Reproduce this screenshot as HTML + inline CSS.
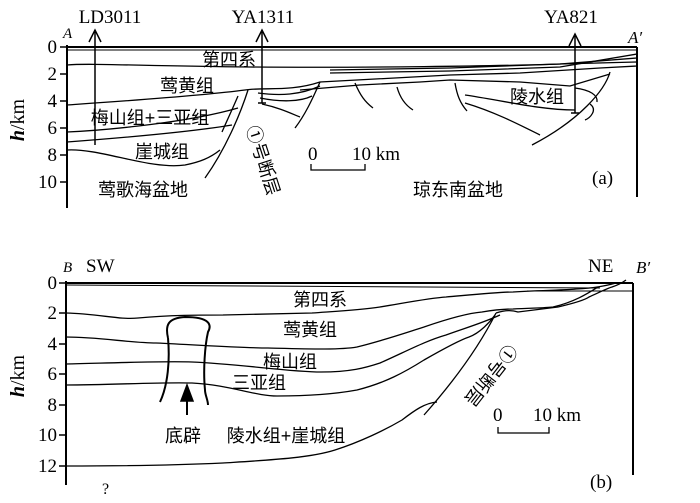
<!DOCTYPE html>
<html><head><meta charset="utf-8"><style>
html,body{margin:0;padding:0;background:#fff}
svg{display:block}
text{font-family:"Liberation Serif","Noto Serif CJK SC",serif;fill:#000}
.c{font-family:"Liberation Sans","Noto Sans CJK SC",sans-serif;font-size:18px}
.n{font-size:19px}
</style></head><body>
<svg width="700" height="503" viewBox="0 0 700 503" xmlns="http://www.w3.org/2000/svg" fill="none" stroke="#000" stroke-width="1.5">
<!-- Panel A -->
<line x1="67" y1="47" x2="637" y2="47" stroke-width="2"/>
<line x1="67" y1="50" x2="637" y2="50" stroke-width="1"/>
<line x1="67" y1="45" x2="67" y2="208" stroke-width="2"/>
<line x1="637" y1="47" x2="637" y2="197" stroke-width="2"/>
<g stroke-width="1.3">
<path d="M67,65 C90,63 140,66 250,67 S500,66 560,64 L637,62"/>
<path d="M330,70 L450,68 L560,64 L637,58"/>
<path d="M330,73 L450,71 L560,67 L637,54"/>
<path d="M67,105 C110,102 200,96 245,90 C265,87 290,92 320,82 L450,75 L520,73 L600,68 L637,66"/>
<path d="M67,132 C110,130 190,122 238,108"/>
<path d="M67,142 C120,138 190,132 232,125"/>
<path d="M67,150 C100,148 150,170 185,165 C200,162 210,158 220,150"/>
<path d="M248,90 C240,115 225,150 205,178"/>
<path d="M238,96 C232,110 225,125 222,132"/>
<path d="M258,93 C280,96 300,95 320,86"/>
<path d="M260,98 C280,102 300,102 312,96"/>
<path d="M262,104 C280,108 290,113 300,117"/>
<path d="M320,82 C312,100 305,115 295,128"/>
<path d="M300,90 L360,85 L420,82 L450,80 L520,82 L570,86 L610,74"/>
<path d="M355,83 C360,95 365,102 373,108"/>
<path d="M397,87 C400,98 405,105 413,110"/>
<path d="M455,83 C457,95 460,103 467,111"/>
<path d="M465,95 C500,100 540,110 575,110"/>
<path d="M465,103 C495,112 520,125 540,135"/>
<path d="M610,72 C605,90 580,120 532,145"/>
<path d="M575,88 C590,90 598,95 597,102"/>
<path d="M590,104 C598,110 590,118 585,120"/>
</g>
<!-- wells -->
<line x1="95" y1="32" x2="95" y2="145"/><path d="M89,42 L95,30 L101,42" />
<line x1="262" y1="32" x2="262" y2="103"/><path d="M256,42 L262,30 L268,42"/><line x1="258" y1="103" x2="266" y2="103"/>
<line x1="575" y1="36" x2="575" y2="113"/><path d="M569,46 L575,34 L581,46"/><line x1="571" y1="113" x2="579" y2="113"/>
<g stroke="none">
<text x="110" y="23" text-anchor="middle" class="n">LD3011</text>
<text x="263" y="23" text-anchor="middle" class="n">YA1311</text>
<text x="571" y="23" text-anchor="middle" class="n">YA821</text>
<text x="63" y="38" font-style="italic" font-size="15">A</text>
<text x="628" y="43" font-style="italic" font-size="17">A′</text>
<g class="n" text-anchor="end">
<text x="57" y="53">0</text><text x="57" y="80">2</text><text x="57" y="107">4</text><text x="57" y="134">6</text><text x="57" y="161">8</text><text x="57" y="188">10</text>
</g>
<text x="229" y="66" class="c" text-anchor="middle">第四系</text>
<text x="187" y="92" class="c" text-anchor="middle">莺黄组</text>
<text x="150" y="124" class="c" text-anchor="middle">梅山组+三亚组</text>
<text x="162" y="158" class="c" text-anchor="middle">崖城组</text>
<text x="143" y="196" class="c" text-anchor="middle">莺歌海盆地</text>
<text x="537" y="103" class="c" text-anchor="middle">陵水组</text>
<text x="458" y="196" class="c" text-anchor="middle">琼东南盆地</text>
<text transform="translate(246,128) rotate(72)" class="c" font-size="16">①号断层</text>
<text x="308" y="160" class="n">0</text><text x="352" y="160" class="n">10 km</text>
<text x="592" y="184" class="n">(a)</text>
</g>
<path d="M311,164 L311,170 L365,170 L365,164" stroke-width="1.3"/>
<g stroke="#000" stroke-width="1.5">
<line x1="60" y1="47" x2="67" y2="47"/><line x1="60" y1="74" x2="67" y2="74"/><line x1="60" y1="101" x2="67" y2="101"/><line x1="60" y1="128" x2="67" y2="128"/><line x1="60" y1="155" x2="67" y2="155"/><line x1="60" y1="182" x2="67" y2="182"/>
</g>
<text transform="translate(24,120) rotate(-90)" stroke="none" font-size="20" text-anchor="middle"><tspan font-style="italic" font-weight="bold">h</tspan>/km</text>

<!-- Panel B -->
<line x1="66" y1="283" x2="633" y2="283" stroke-width="2"/>
<line x1="66" y1="285" x2="600" y2="288" stroke-width="1"/>
<line x1="527" y1="291" x2="633" y2="291" stroke-width="1"/>
<line x1="66" y1="281" x2="66" y2="485" stroke-width="2"/>
<line x1="633" y1="283" x2="633" y2="475" stroke-width="2"/>
<g stroke-width="1.3">
<path d="M66,313 C100,314 120,320 138,318 C170,315 200,315 223,315 L312,313 C340,311 360,310 380,307 C410,302 430,298 446,297 C480,294 500,292 513,292 C545,290 570,290 576,289 C595,288 605,286 616,283"/>
<path d="M66,337 C100,337 130,343 156,343 C200,345 240,348 268,348 C310,349 340,350 357,347 C385,340 405,333 424,327 C450,318 470,313 482,312 C500,309 513,309 513,309 C530,308 545,308 553,307 C575,302 590,292 598,287"/>
<path d="M66,364 C110,363 160,361 192,362 C240,364 290,372 321,372 C350,372 365,368 380,363 C405,352 425,341 446,335 C465,328 480,324 500,315"/>
<path d="M66,385 C110,385 160,382 192,383 C230,385 255,396 277,396 C310,396 335,394 357,390 C385,383 405,372 424,360 C445,348 460,340 469,337 C480,333 490,322 495,315"/>
<path d="M496,313 C480,345 455,380 424,415"/>
<path d="M66,466 C120,466 180,465 223,463 C270,460 310,458 335,450 C360,442 385,430 402,420 C415,410 425,403 437,402"/>
<path d="M496,313 C505,310 512,310 518,312 C535,310 550,308 558,307 C575,303 585,300 589,297 C600,292 608,288 612,287 C618,285 622,283 626,280"/>
<path d="M168,338 C165,325 168,318 185,317 C210,317 212,325 208,332 C205,345 203,370 205,390 C205,395 208,400 208,405" stroke-width="2"/>
<path d="M168,338 C170,360 168,385 160,402" stroke-width="2"/>
</g>
<line x1="187" y1="400" x2="187" y2="415" stroke-width="2"/>
<path d="M181,401 L187,385 L193,401 Z" fill="#000"/>
<g stroke="#000" stroke-width="1.5">
<line x1="59" y1="283" x2="66" y2="283"/><line x1="59" y1="313" x2="66" y2="313"/><line x1="59" y1="344" x2="66" y2="344"/><line x1="59" y1="374" x2="66" y2="374"/><line x1="59" y1="405" x2="66" y2="405"/><line x1="59" y1="435" x2="66" y2="435"/><line x1="59" y1="466" x2="66" y2="466"/>
</g>
<path d="M498,427 L498,433 L549,433 L549,427" stroke-width="1.3"/>
<g stroke="none">
<g class="n" text-anchor="end">
<text x="57" y="289">0</text><text x="57" y="319">2</text><text x="57" y="350">4</text><text x="57" y="380">6</text><text x="57" y="411">8</text><text x="57" y="441">10</text><text x="57" y="472">12</text>
</g>
<text x="63" y="272" font-style="italic" font-size="15">B</text>
<text x="86" y="272" class="n">SW</text>
<text x="588" y="272" class="n">NE</text>
<text x="636" y="273" font-style="italic" font-size="17">B′</text>
<text x="320" y="306" class="c" text-anchor="middle">第四系</text>
<text x="310" y="336" class="c" text-anchor="middle">莺黄组</text>
<text x="290" y="368" class="c" text-anchor="middle">梅山组</text>
<text x="259" y="389" class="c" text-anchor="middle">三亚组</text>
<text x="183" y="442" class="c" text-anchor="middle">底辟</text>
<text x="286" y="442" class="c" text-anchor="middle">陵水组+崖城组</text>
<text transform="translate(508,343) rotate(128)" class="c" font-size="16">①号断层</text>
<text x="493" y="421" class="n">0</text><text x="533" y="421" class="n">10 km</text>
<text x="590" y="488" class="n">(b)</text>
<text x="102" y="494" font-size="16">?</text>
</g>
<text transform="translate(24,376) rotate(-90)" stroke="none" font-size="20" text-anchor="middle"><tspan font-style="italic" font-weight="bold">h</tspan>/km</text>
</svg>
</body></html>
